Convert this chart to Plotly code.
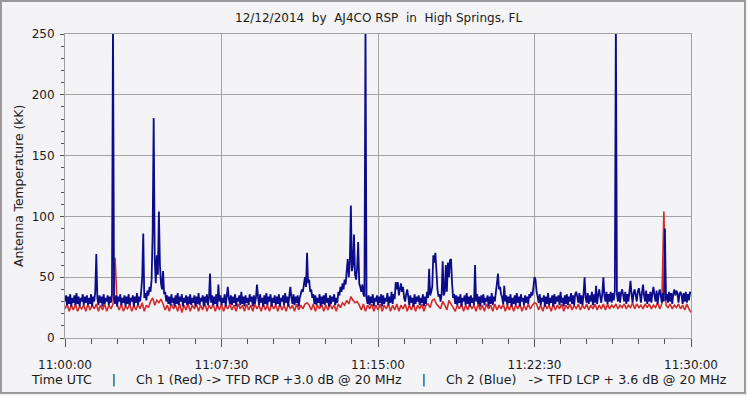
import pandas as pd
import plotly.graph_objects as go

start_time = "2014-12-12 11:00:00"
end_time = "2014-12-12 11:30:00"

# Ch 2 (Blue) -> TFD LCP, antenna temperature in kK, one sample per 3 s (rows = 1 minute)
blue_kk = [
    30, 35, 27, 34, 28, 36, 26, 33, 29, 35, 27, 37, 28, 34, 26, 33, 30, 36, 27, 34,
    29, 35, 27, 33, 28, 36, 26, 34, 30, 38, 69, 33, 27, 35, 29, 34, 26, 36, 28, 33,
    30, 35, 27, 34, 29, 36, 260, 33, 28, 35, 26, 34, 30, 36, 27, 33, 29, 35, 26, 34,
    28, 36, 27, 33, 30, 35, 26, 34, 29, 37, 27, 34, 30, 38, 50, 86, 33, 37, 31, 39,
    35, 42, 38, 48, 86, 181, 65, 45, 68, 52, 104, 60, 45, 40, 55, 36, 38, 30, 35, 28,
    34, 27, 36, 29, 33, 26, 35, 28, 37, 27, 34, 30, 36, 26, 33, 29, 35, 27, 34, 28,
    36, 27, 33, 29, 35, 26, 34, 28, 37, 27, 33, 30, 35, 26, 34, 29, 36, 27, 33, 53,
    29, 35, 27, 34, 28, 36, 26, 44, 30, 35, 27, 33, 29, 36, 26, 34, 42, 33, 28, 35,
    27, 34, 29, 36, 26, 33, 30, 35, 27, 38, 28, 34, 26, 35, 29, 33, 27, 36, 30, 34,
    26, 35, 28, 33, 44, 34, 27, 36, 29, 33, 26, 35, 28, 37, 27, 34, 30, 36, 26, 33,
    29, 35, 27, 34, 28, 36, 26, 33, 30, 35, 27, 37, 29, 34, 26, 35, 42, 33, 28, 36,
    27, 34, 29, 35, 26, 33, 36, 40, 38, 44, 50, 42, 70, 45, 48, 38, 40, 33, 36, 28,
    35, 27, 33, 29, 36, 26, 34, 28, 35, 27, 37, 29, 33, 26, 35, 28, 34, 30, 36, 27,
    33, 29, 38, 35, 42, 38, 45, 40, 48, 44, 55, 65, 50, 62, 109, 55, 60, 85, 52, 48,
    58, 79, 45, 42, 38, 44, 36, 34, 260, 33, 28, 35, 27, 34, 29, 36, 26, 33, 30, 35,
    27, 34, 29, 36, 26, 35, 28, 33, 30, 37, 27, 34, 29, 38, 28, 36, 32, 46, 40, 46,
    35, 40, 45, 38, 42, 33, 30, 36, 40, 34, 27, 35, 29, 33, 26, 36, 28, 34, 30, 35,
    27, 33, 29, 36, 26, 34, 28, 38, 33, 57, 35, 38, 42, 68, 62, 70, 55, 40, 34, 36,
    30, 36, 63, 35, 38, 60, 38, 62, 50, 64, 65, 45, 33, 36, 28, 35, 27, 34, 29, 36,
    26, 33, 30, 35, 27, 37, 28, 34, 26, 35, 29, 33, 27, 60, 30, 36, 28, 34, 26, 35,
    29, 36, 27, 33, 30, 35, 26, 34, 28, 37, 27, 34, 30, 38, 45, 53, 40, 42, 36, 33,
    28, 43, 30, 35, 27, 34, 29, 36, 26, 33, 28, 35, 27, 37, 29, 34, 26, 36, 30, 33,
    27, 35, 29, 34, 28, 36, 33, 38, 35, 42, 50, 48, 38, 34, 29, 36, 27, 33, 30, 35,
    26, 34, 28, 37, 27, 33, 29, 35, 26, 36, 28, 34, 30, 35, 27, 38, 29, 33, 26, 35,
    28, 36, 27, 34, 30, 37, 28, 35, 27, 36, 38, 34, 29, 37, 28, 35, 27, 36, 50, 33,
    29, 37, 28, 35, 30, 38, 27, 36, 29, 43, 28, 35, 40, 34, 29, 37, 50, 35, 30, 38,
    28, 36, 30, 38, 29, 37, 31, 39, 260, 36, 30, 38, 29, 37, 40, 35, 30, 38, 28, 36,
    30, 38, 47, 36, 29, 37, 40, 35, 30, 38, 41, 36, 29, 37, 44, 35, 30, 39, 28, 36,
    30, 38, 29, 37, 42, 35, 30, 39, 28, 36, 40, 35, 29, 37, 30, 90, 31, 36, 29, 38,
    30, 37, 28, 36, 40, 35, 39, 37, 29, 36, 38, 35, 28, 37, 30, 38, 29, 36, 31, 38,
    36,
]

# Ch 1 (Red) -> TFD RCP, antenna temperature in kK, one sample per 6 s (rows = 2 minutes)
red_kk = [
    24, 28, 22, 27, 23, 28, 22, 26, 24, 27, 22, 28, 23, 27, 24, 28, 22, 27, 23, 28,
    22, 27, 24, 28, 66, 27, 23, 28, 22, 26, 24, 28, 22, 27, 23, 28, 24, 29, 22, 27,
    25, 30, 33, 27, 31, 29, 32, 28, 23, 27, 22, 28, 24, 27, 22, 28, 21, 27, 23, 28,
    22, 27, 24, 28, 22, 27, 23, 29, 22, 27, 24, 28, 22, 27, 23, 28, 22, 27, 24, 28,
    23, 27, 22, 28, 24, 27, 22, 28, 23, 27, 22, 28, 24, 27, 22, 28, 23, 27, 22, 28,
    24, 27, 22, 28, 23, 27, 22, 28, 24, 27, 22, 28, 23, 27, 24, 28, 29, 27, 23, 28,
    22, 27, 24, 28, 22, 27, 23, 28, 24, 27, 22, 28, 25, 29, 27, 31, 28, 34, 31, 29,
    30, 27, 23, 28, 22, 27, 24, 28, 22, 27, 23, 28, 22, 27, 24, 28, 22, 27, 23, 28,
    22, 27, 24, 28, 22, 27, 23, 28, 22, 27, 24, 28, 22, 27, 28, 25, 31, 32, 28, 26,
    24, 30, 27, 23, 31, 28, 25, 22, 27, 24, 28, 22, 27, 23, 28, 24, 27, 22, 28, 23,
    27, 22, 28, 24, 27, 22, 28, 23, 27, 24, 28, 22, 27, 23, 28, 22, 27, 24, 28, 22,
    27, 23, 28, 24, 27, 29, 28, 23, 27, 22, 28, 24, 27, 22, 28, 23, 27, 24, 28, 22,
    27, 24, 28, 23, 27, 24, 28, 23, 27, 24, 28, 23, 27, 24, 28, 23, 27, 24, 28, 23,
    28, 24, 27, 25, 28, 24, 27, 25, 28, 24, 27, 25, 29, 24, 28, 25, 27, 24, 28, 25,
    28, 24, 27, 25, 29, 24, 28, 104, 27, 25, 28, 24, 27, 25, 28, 24, 27, 23, 28, 24,
    21,
]

x_tick_labels = ["11:00:00", "11:07:30", "11:15:00", "11:22:30", "11:30:00"]
y_tick_values = [0, 50, 100, 150, 200, 250]

NB = "\u00a0"
title_text = f"12/12/2014{NB*2}by{NB*2}AJ4CO RSP{NB*2}in{NB*2}High Springs, FL"
y_title_text = "Antenna Temperature (kK)"
footer_text = (f"Time UTC{NB*5}|{NB*5}Ch 1 (Red) -> TFD RCP +3.0 dB @ 20 MHz"
               f"{NB*5}|{NB*5}Ch 2 (Blue){NB*3}-> TFD LCP + 3.6 dB @ 20 MHz")

blue_times = pd.date_range(start_time, end_time, periods=len(blue_kk))
red_times = pd.date_range(start_time, end_time, periods=len(red_kk))
tick_times = pd.date_range(start_time, end_time, periods=len(x_tick_labels))

BG = "#f4f4f7"
GRID = "#a3a3a3"
FONT = "DejaVu Sans"
TXT = "#1a1a1a"

fig = go.Figure()
fig.add_trace(go.Scatter(x=red_times, y=red_kk, mode="lines",
                         line=dict(color="#d42a2a", width=1.6, simplify=False), name="Ch 1 (Red)"))
fig.add_trace(go.Scatter(x=blue_times, y=blue_kk, mode="lines",
                         line=dict(color="#0c0c8a", width=1.8, simplify=False),
                         name="Ch 2 (Blue)"))

fig.update_layout(
    width=747, height=396,
    margin=dict(l=65, r=56, t=34, b=58),
    paper_bgcolor=BG, plot_bgcolor=BG,
    showlegend=False,
    font=dict(family=FONT, size=11, color=TXT),
    xaxis=dict(
        range=[tick_times[0], tick_times[-1]],
        tickvals=list(tick_times), ticktext=x_tick_labels,
        showgrid=True, gridcolor=GRID, gridwidth=1,
        showline=True, linecolor=GRID, linewidth=1, mirror=True,
        ticks="outside", ticklen=8, tickcolor="#555555",
        minor=dict(dtick=75000, tick0=tick_times[0], ticks="outside", ticklen=5,
                   tickcolor="#555555", showgrid=False),
        tickfont=dict(family=FONT, size=12, color=TXT),
        ticklabelstandoff=8,
        zeroline=False,
    ),
    yaxis=dict(
        range=[0, 250],
        tickvals=y_tick_values,
        showgrid=True, gridcolor=GRID, gridwidth=1,
        showline=True, linecolor=GRID, linewidth=1, mirror=True,
        ticks="outside", ticklen=4, tickcolor="#555555",
        minor=dict(dtick=10, ticks="outside", ticklen=3, tickcolor="#555555", showgrid=False),
        tickfont=dict(family=FONT, size=12, color=TXT),
        ticklabelstandoff=3,
        zeroline=False,
    ),
    annotations=[
        dict(text=title_text, xref="paper", yref="paper", x=0.5, y=(338 - 18) / 304,
             xanchor="center", yanchor="middle", showarrow=False,
             font=dict(family=FONT, size=12, color=TXT)),
        dict(text=y_title_text, xref="paper", yref="paper", x=(19 - 65) / 626, y=0.5,
             xanchor="center", yanchor="middle", textangle=-90, showarrow=False,
             font=dict(family=FONT, size=12.3, color=TXT)),
        dict(text=footer_text, xref="paper", yref="paper", x=(378.5 - 65) / 626, y=(338 - 379) / 304,
             xanchor="center", yanchor="middle", showarrow=False,
             font=dict(family=FONT, size=12.6, color=TXT)),
    ],
    shapes=[
        dict(type="rect", xref="paper", yref="paper",
             x0=(1 - 65) / 626, x1=(745 - 65) / 626,
             y0=(338 - 393) / 304, y1=(338 - 1) / 304,
             line=dict(color="#9a9a9a", width=2), layer="below"),
    ],
)

fig.write_html("out.html")
